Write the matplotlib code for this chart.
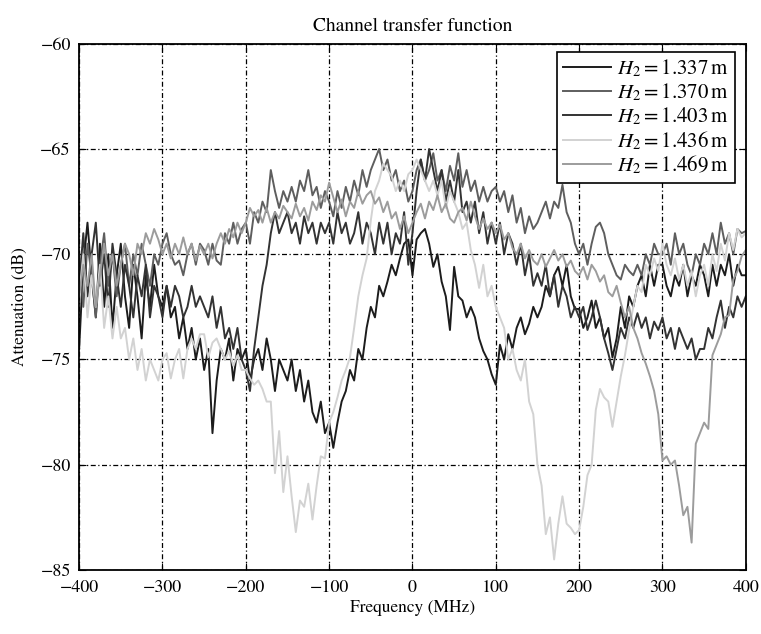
import numpy as np
import matplotlib
matplotlib.use('Agg')
import matplotlib.pyplot as plt

# frequency axis (MHz), 5 MHz spacing
freq = np.arange(-400, 405, 5)

# attenuation (dB), one row = 50 MHz
h_1337 = [
    -74.5, -70.5, -68.5, -71.0, -73.0, -69.5, -72.5, -70.0, -73.5, -71.0,
    -69.5, -72.0, -73.5, -70.5, -72.0, -74.0, -71.0, -72.5, -70.5, -72.0,
    -72.5, -71.5, -73.0, -72.5, -74.0, -73.0, -74.5, -73.5, -75.0, -74.0,
    -75.5, -74.5, -78.5, -76.0, -74.5, -75.0, -74.0, -76.0, -74.5, -75.0,
    -74.5, -76.0, -75.0, -74.5, -75.5, -74.0, -75.0, -76.5, -75.0, -75.5,
    -76.0, -75.0, -76.5, -75.5, -77.0, -76.0, -77.5, -78.0, -77.0, -78.5,
    -78.0, -79.2, -78.0, -77.0, -76.5, -75.5, -76.0, -74.5, -75.0, -73.5,
    -72.5, -73.0, -71.5, -72.0, -71.3, -70.5, -71.0, -70.2, -69.5, -69.3,
    -71.0, -69.3, -69.0, -68.8, -69.5, -70.6, -70.0, -71.3, -72.0, -73.6,
    -70.6, -72.0, -72.2, -73.0, -72.5, -73.0, -74.0, -74.6, -75.0, -75.7,
    -76.2, -74.3, -75.0, -73.8, -74.5, -73.5, -73.0, -73.8, -73.3, -72.5,
    -73.0, -72.5, -71.5, -72.0, -71.0, -70.6, -71.5, -70.5, -72.0, -72.6,
    -72.6, -73.5, -73.0, -72.2, -73.5, -73.0, -74.0, -73.5, -74.9, -74.0,
    -72.5, -73.5, -72.0, -72.5, -71.5, -71.0, -72.0, -70.5, -71.5, -70.5,
    -70.5, -71.5, -72.0, -71.0, -71.5, -70.5, -72.0, -71.0, -71.5, -70.5,
    -71.0, -72.0, -70.5, -71.5, -70.5, -71.0, -70.0, -71.5, -70.5, -71.0,
    -71.0]

h_1370 = [
    -70.0, -72.5, -69.5, -71.0, -73.0, -70.5, -69.0, -71.5, -70.0, -72.0,
    -70.5, -69.5, -71.5, -70.0, -71.0, -69.5, -70.5, -71.5, -70.0, -70.5,
    -69.5, -69.0, -70.0, -70.5, -70.3, -71.0, -70.0, -69.5, -70.5, -69.5,
    -69.8, -70.5, -69.5, -70.3, -70.5, -69.0, -69.5, -68.5, -69.5, -68.8,
    -68.5, -69.5, -68.0, -68.5, -67.5, -68.0, -66.0, -67.0, -67.8, -67.0,
    -67.5, -66.8, -67.5, -66.5, -67.0, -66.0, -67.2, -66.8, -67.8, -67.0,
    -67.5, -68.2, -67.0, -67.8, -66.8, -67.5, -66.5, -67.2, -66.0, -66.8,
    -66.0, -65.5, -65.0, -66.0, -65.5, -66.5, -66.0, -67.0, -66.5, -67.5,
    -67.0, -66.0, -65.5, -66.5, -66.0, -65.2, -66.5, -66.0, -67.0, -65.8,
    -66.5, -65.2, -66.8, -66.0, -67.0, -66.5, -67.5, -66.8, -67.5, -67.0,
    -66.8, -67.5, -67.0, -68.0, -67.2, -68.5, -67.8, -69.0, -68.2, -68.8,
    -68.5, -68.0, -67.5, -68.3, -67.5, -67.8, -66.7, -68.0, -68.5, -69.5,
    -70.0, -69.5, -70.5, -69.5, -68.7, -68.5, -69.0, -70.0, -70.5, -71.0,
    -71.2, -70.5, -70.8, -71.0, -70.5, -71.0, -70.0, -70.5, -69.5, -70.0,
    -70.0, -69.5, -70.5, -69.0, -70.0, -69.5, -70.5, -71.0, -70.0, -70.5,
    -69.5, -70.0, -69.0, -70.0, -68.5, -69.5, -69.0, -70.0, -68.8, -69.0,
    -68.9]

h_1403 = [
    -71.5, -69.0, -72.0, -70.0, -68.5, -71.5, -70.0, -72.5, -69.5, -71.0,
    -72.5, -70.5, -71.5, -73.0, -71.0, -72.0, -70.5, -73.0, -71.5, -72.0,
    -73.0, -71.5, -72.5, -71.5, -72.0, -73.0, -72.5, -71.5, -72.5, -72.0,
    -72.5, -73.0, -72.0, -73.5, -72.5, -74.0, -73.5, -74.5, -73.5, -75.0,
    -75.5, -76.5, -74.5, -73.0, -71.5, -70.5, -69.0, -68.0, -69.0, -68.5,
    -68.0, -69.0, -68.5, -69.5, -68.2, -69.0, -68.5, -69.5, -68.5, -69.0,
    -68.5, -69.5, -68.0, -69.0, -68.5, -69.5, -69.0, -68.0, -69.5, -68.5,
    -69.0, -70.0, -68.5, -69.5, -68.5, -70.0, -69.0, -69.5, -68.0, -70.5,
    -69.0, -67.0, -65.5, -66.5, -65.0, -66.0, -67.0, -66.0, -67.5, -66.5,
    -67.5, -66.0, -68.0, -67.5, -68.5, -67.5, -69.0, -68.0, -69.5, -68.5,
    -69.5, -68.5, -70.0, -69.0, -69.5, -70.5, -69.5, -71.0, -70.0, -71.5,
    -70.9, -71.5, -70.5, -72.0, -71.0, -72.5, -71.5, -72.0, -73.0, -72.5,
    -73.0, -72.5, -73.6, -73.0, -72.2, -73.0, -74.0, -74.7, -75.5, -74.5,
    -73.5, -74.0, -73.0, -73.5, -72.8, -73.5, -73.0, -74.0, -73.2, -73.6,
    -73.0, -74.0, -73.5, -74.5, -73.5, -74.0, -74.5, -74.0, -75.0, -74.5,
    -74.5, -73.5, -74.0, -73.0, -72.2, -73.5, -72.5, -73.0, -72.0, -72.5,
    -72.0]

h_1436 = [
    -72.0, -70.0, -73.0, -71.0, -72.5, -70.5, -73.5, -72.0, -74.0, -72.5,
    -74.0, -73.5, -75.0, -74.0, -75.5, -74.5, -76.0, -75.0, -75.5, -76.0,
    -75.0, -74.7, -75.9, -75.0, -74.5, -75.9, -74.5, -74.0, -74.5, -73.8,
    -73.8, -74.9, -74.2, -74.0, -74.5, -75.0, -74.6, -75.3, -74.8, -75.5,
    -75.5, -75.9, -76.2, -76.0, -76.4, -77.0, -77.0, -80.4, -78.4, -81.3,
    -79.6, -81.5, -83.2, -81.7, -82.0, -80.9, -82.6, -81.0, -79.6, -79.7,
    -78.0, -77.5, -76.8, -76.0, -75.5, -74.9, -73.5, -72.0, -71.0, -70.2,
    -68.4, -67.0, -66.5, -65.7, -66.0, -66.3, -67.0, -66.5, -67.0, -66.2,
    -66.0, -65.5, -66.0, -66.5, -67.0, -66.5, -67.2, -66.5, -67.8, -67.0,
    -67.5, -68.0, -68.8, -68.5, -69.8, -70.5, -71.6, -70.5, -72.0, -71.5,
    -72.5, -73.0, -73.5, -75.0, -74.5, -75.5, -76.0, -75.0, -77.0, -77.6,
    -80.0, -81.0, -83.3, -82.5, -84.5, -82.8, -81.5, -82.8, -83.0, -83.3,
    -83.1, -82.0, -80.5, -80.0, -77.4, -76.4, -76.8, -77.0, -78.2, -77.0,
    -75.8, -74.8, -73.6, -72.5, -71.5, -71.8, -70.5, -71.0, -70.2, -70.8,
    -69.5, -70.5, -71.0, -70.2, -71.2, -70.5, -71.5, -70.8, -72.0, -71.0,
    -70.5, -71.5, -70.0, -70.8, -69.5, -70.3, -69.0, -69.8, -68.8, -69.2,
    -69.0]

h_1469 = [
    -72.0, -70.5, -71.5, -70.0, -72.5, -71.0, -69.5, -71.0, -70.0, -71.5,
    -70.5, -69.5, -70.0, -71.0, -69.5, -70.0, -69.0, -69.5, -68.8, -69.3,
    -70.0, -69.5, -70.2, -69.5, -70.0, -69.2, -70.0, -69.5, -70.3, -69.6,
    -70.0, -69.5, -70.2, -69.5, -69.0, -69.5, -68.8, -69.2, -68.5, -69.0,
    -68.5, -67.8, -68.2, -67.9, -68.5, -67.8, -68.5, -68.0, -68.3, -67.7,
    -68.0, -68.3, -67.6, -68.2, -67.8, -68.4, -67.5, -67.9, -67.2, -67.5,
    -66.6, -67.3, -68.0, -67.4, -68.2, -67.5, -67.8, -67.0, -67.6, -67.2,
    -67.0, -67.6, -67.3, -68.0, -67.5, -68.3, -68.0, -68.8, -68.2, -69.0,
    -68.5, -68.0, -67.6, -68.3, -67.5, -67.9, -67.2, -68.0, -67.6, -68.3,
    -68.5, -68.0, -67.8, -68.4, -67.5, -68.2, -68.8, -68.3, -68.8, -68.5,
    -69.0, -68.6, -69.3, -69.0, -69.7, -70.0, -69.5, -70.2, -69.8, -70.3,
    -70.5, -70.0, -70.6, -70.2, -69.8, -70.3, -70.0, -70.6, -70.3, -70.8,
    -71.0, -70.6, -71.2, -70.5, -70.8, -71.3, -71.0, -71.8, -72.0, -71.5,
    -72.3, -73.0, -72.5, -73.5, -74.0, -74.7, -75.2, -75.8, -76.5, -77.6,
    -79.8, -79.6, -80.0, -79.8, -81.0, -82.4, -82.0, -83.7, -79.0, -78.5,
    -78.0, -78.3, -74.8, -74.3, -73.8, -73.0, -72.9, -71.2, -70.8, -70.1,
    -69.8]

labels = ['1.337', '1.370', '1.403', '1.436', '1.469']
series = [h_1337, h_1370, h_1403, h_1436, h_1469]
colors = ['#1c1c1c', '#5e5e5e', '#333333', '#d2d2d2', '#9c9c9c']

plt.rcParams['font.family'] = 'STIXGeneral'
plt.rcParams['mathtext.fontset'] = 'stix'

fig = plt.figure(figsize=(7.61, 6.34), dpi=100)
ax = fig.add_axes([0.104, 0.101, 0.876, 0.830])

for lab, y, c in zip(labels, series, colors):
    ax.plot(freq, y, color=c, lw=1.4, label=r'$H_2 = %s\,\mathrm{m}$' % lab)

ax.set_xlim(-400, 400)
ax.set_ylim(-85, -60)
ax.set_xticks(np.arange(-400, 401, 100))
ax.set_yticks(np.arange(-85, -59, 5))
ax.grid(True, color='black', lw=0.9, linestyle=(0, (4, 2, 1, 2)))
ax.tick_params(direction='in', top=True, right=True, labelsize=13, length=5)
ax.tick_params(axis='x', pad=7)
ax.tick_params(axis='y', pad=6)
for sp in ax.spines.values():
    sp.set_linewidth(1.3)

ax.set_title('Channel transfer function', fontsize=14, pad=9)
ax.set_xlabel('Frequency (MHz)', fontsize=12.5, labelpad=3)
ax.set_ylabel('Attenuation (dB)', fontsize=12.5, labelpad=9)

leg = ax.legend(loc='upper right', bbox_to_anchor=(0.984, 0.985),
                fontsize=15, fancybox=False, framealpha=1,
                edgecolor='black', handlelength=2.3, labelspacing=0.1,
                borderaxespad=0.0, handletextpad=0.3, borderpad=0.3)
leg.get_frame().set_linewidth(1.2)

fig.savefig('out.png', dpi=100)
